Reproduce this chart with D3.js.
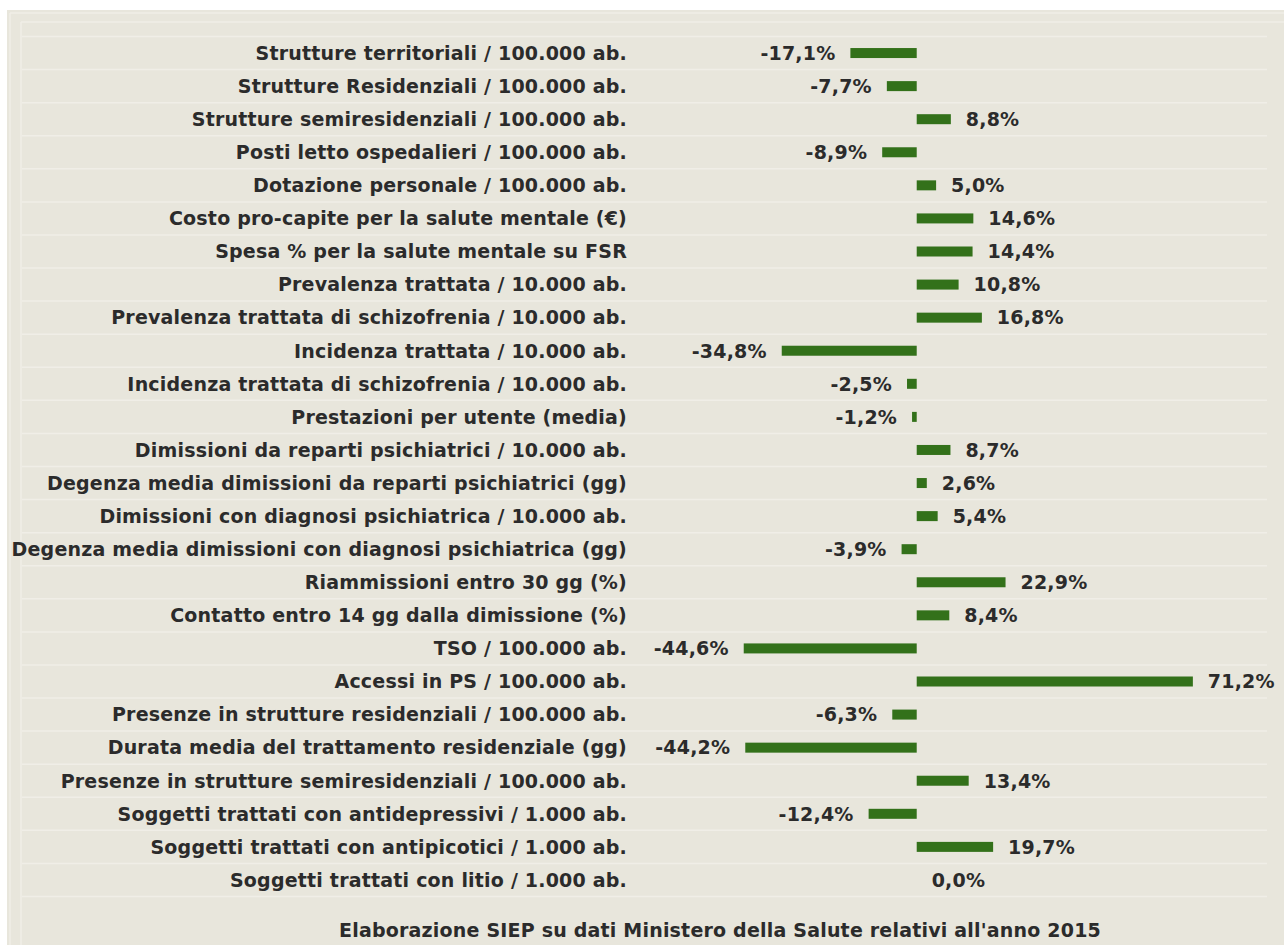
<!DOCTYPE html>
<html lang="it">
<head>
  <meta charset="UTF-8">
  <title>Indicatori salute mentale</title>
  <style>
    body { margin: 0; background: #fff; }
    svg text { font-family: "DejaVu Sans", sans-serif; font-weight: bold; fill: #2b2b2b; letter-spacing: 0.2px; }
  </style>
  <script src="https://d3js.org/d3.v7.min.js"></script>
</head>
<body>
<div id="chart"></div>
<script>
  // Indicators and percentage change
  var categories = [
    "Strutture territoriali / 100.000 ab.",
    "Strutture Residenziali / 100.000 ab.",
    "Strutture semiresidenziali / 100.000 ab.",
    "Posti letto ospedalieri / 100.000 ab.",
    "Dotazione personale / 100.000 ab.",
    "Costo pro-capite per la salute mentale (€)",
    "Spesa % per la salute mentale su FSR",
    "Prevalenza trattata / 10.000 ab.",
    "Prevalenza trattata di schizofrenia / 10.000 ab.",
    "Incidenza trattata / 10.000 ab.",
    "Incidenza trattata di schizofrenia / 10.000 ab.",
    "Prestazioni per utente (media)",
    "Dimissioni da reparti psichiatrici / 10.000 ab.",
    "Degenza media dimissioni da reparti psichiatrici (gg)",
    "Dimissioni con diagnosi psichiatrica / 10.000 ab.",
    "Degenza media dimissioni con diagnosi psichiatrica (gg)",
    "Riammissioni entro 30 gg (%)",
    "Contatto entro 14 gg dalla dimissione (%)",
    "TSO / 100.000 ab.",
    "Accessi in PS / 100.000 ab.",
    "Presenze in strutture residenziali / 100.000 ab.",
    "Durata media del trattamento residenziale (gg)",
    "Presenze in strutture semiresidenziali / 100.000 ab.",
    "Soggetti trattati con antidepressivi / 1.000 ab.",
    "Soggetti trattati con antipicotici / 1.000 ab.",
    "Soggetti trattati con litio / 1.000 ab."
  ];
  var values = [
    -17.1, -7.7, 8.8, -8.9, 5.0, 14.6, 14.4, 10.8, 16.8, -34.8,
    -2.5, -1.2, 8.7, 2.6, 5.4, -3.9, 22.9, 8.4, -44.6, 71.2,
    -6.3, -44.2, 13.4, -12.4, 19.7, 0.0
  ];
  var footer = "Elaborazione SIEP su dati Ministero della Salute relativi all'anno 2015";

  var width = 1284, height = 945;
  var fmt = d3.formatLocale({ decimal: ",", thousands: ".", grouping: [3], currency: ["", "€"], minus: "-" }).format(".1%");

  var data = categories.map(function(c, i) { return { name: c, value: values[i] }; });

  var svg = d3.select("#chart").append("svg")
    .attr("width", width)
    .attr("height", height);

  // panel
  svg.append("rect").attr("x", 7).attr("y", 10).attr("width", width - 7).attr("height", height - 10)
    .attr("fill", "#e8e6dc");
  var edge = svg.append("g").attr("stroke", "#f0eee7").attr("stroke-width", 1.5);
  edge.append("line").attr("x1", 10).attr("x2", 10).attr("y1", 13).attr("y2", height);
  edge.append("line").attr("x1", 21).attr("x2", 21).attr("y1", 22).attr("y2", height);
  edge.append("line").attr("x1", 10).attr("x2", width).attr("y1", 13).attr("y2", 13);
  edge.append("line").attr("x1", 21).attr("x2", width).attr("y1", 22).attr("y2", 22);

  var x = d3.scaleLinear().domain([-60, 80]).range([684, 1227]);
  var y = d3.scaleBand().domain(categories).range([36.5, 896.5]).paddingInner(0);

  // gridlines at row boundaries
  var bounds = categories.map(function(c) { return y(c); }).concat([y.range()[1]]);
  svg.append("g").selectAll("line").data(bounds).join("line")
    .attr("x1", 22).attr("x2", 1267)
    .attr("y1", function(d) { return d; }).attr("y2", function(d) { return d; })
    .attr("stroke", "#f0eee7").attr("stroke-width", 1.5);

  var barH = 10;
  svg.append("g").selectAll("rect").data(data).join("rect")
    .attr("x", function(d) { return x(Math.min(0, d.value)); })
    .attr("y", function(d) { return y(d.name) + y.bandwidth() / 2 - barH / 2; })
    .attr("width", function(d) { return Math.abs(x(d.value) - x(0)); })
    .attr("height", barH)
    .attr("fill", "#33711a");

  // category labels
  svg.append("g").selectAll("text").data(data).join("text")
    .attr("x", 627)
    .attr("y", function(d) { return y(d.name) + y.bandwidth() / 2; })
    .attr("dy", "0.36em")
    .attr("text-anchor", "end")
    .attr("font-size", 19)
    .text(function(d) { return d.name; });

  // value labels
  svg.append("g").selectAll("text").data(data).join("text")
    .attr("x", function(d) { return d.value < 0 ? x(d.value) - 15 : x(d.value) + 15; })
    .attr("y", function(d) { return y(d.name) + y.bandwidth() / 2; })
    .attr("dy", "0.36em")
    .attr("text-anchor", function(d) { return d.value < 0 ? "end" : "start"; })
    .attr("font-size", 19)
    .text(function(d) { return fmt(d.value / 100); });

  svg.append("text")
    .attr("x", 720).attr("y", 937)
    .attr("text-anchor", "middle")
    .attr("font-size", 19)
    .text(footer);
</script>
</body>
</html>
